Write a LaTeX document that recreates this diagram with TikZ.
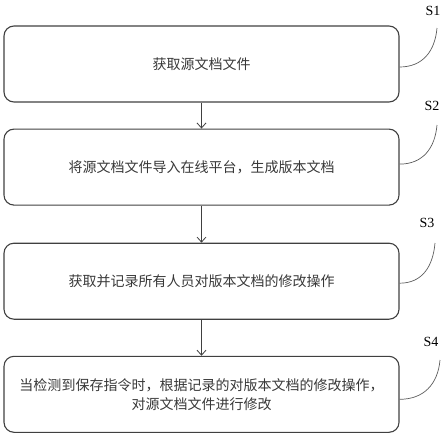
\documentclass[tikz,border=0pt]{standalone}
\usepackage{fontspec}
\setmainfont{Liberation Serif}
\newfontfamily\cjk{Noto Sans CJK SC}
\usetikzlibrary{arrows.meta,positioning}
\definecolor{linegray}{HTML}{404040}
\definecolor{txtgray}{HTML}{383838}

\begin{document}
\begin{tikzpicture}[
    x=1pt, y=1pt,
    stepbox/.style={draw=linegray, line width=1.1pt, rounded corners=10pt, minimum width=395pt, minimum height=76pt, font=\cjk\fontsize{14}{19}\selectfont, text=txtgray, align=center},
    lead/.style={draw=linegray!85, line width=0.7pt, looseness=1.1},
    arr/.style={-{Straight Barb[length=5pt,width=9pt]}, draw=linegray, line width=0.8pt},
    lbl/.style={font=\fontsize{14}{16}\selectfont, text=black},
  ]
  \useasboundingbox (0,0) rectangle (444,-434);

  % steps
  \node[stepbox] (s1) at (201.5,-64) {获取源文档文件};
  \node[stepbox, below=26pt of s1] (s2) {将源文档文件导入在线平台，生成版本文档};
  \node[stepbox, below=37pt of s2] (s3) {获取并记录所有人员对版本文档的修改操作};
  \node[stepbox, below=36pt of s3] (s4) {当检测到保存指令时，根据记录的对版本文档的修改操作，\\对源文档文件进行修改};
  \draw[arr] (s1) -- (s2);
  \draw[arr] (s2) -- (s3);
  \draw[arr] (s3) -- (s4);

  % step labels
  \node[lbl] (l1) at (433,-11) {S1};
  \node[lbl] (l2) at (432,-106) {S2};
  \node[lbl] (l3) at (427,-223) {S3};
  \node[lbl] (l4) at (431,-342) {S4};
  \coordinate (t1) at (437,-28);
  \coordinate (t2) at (437,-125);
  \coordinate (t3) at (435,-243);
  \coordinate (t4) at (440,-360);
  \draw[lead] ([yshift=-3pt]s1.east) to[out=0,in=-95] (t1);
  \draw[lead] ([yshift=3pt]s2.east) to[out=0,in=-95] (t2);
  \draw[lead] ([yshift=-2pt]s3.east) to[out=0,in=-95] (t3);
  \draw[lead] ([yshift=-5pt]s4.east) to[out=0,in=-95] (t4);
\end{tikzpicture}
\end{document}
